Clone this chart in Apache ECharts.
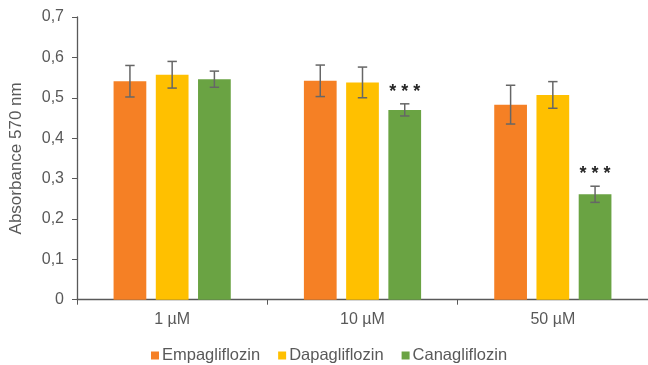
<!DOCTYPE html>
<html>
<head>
<meta charset="utf-8">
<script src="https://cdn.jsdelivr.net/npm/echarts@6/dist/echarts.min.js"></script>
<style>
  html, body { margin: 0; padding: 0; background: #fff; }
  #chart { width: 648px; height: 365px; }
</style>
</head>
<body>
<div id="chart"></div>
<script>
// Concentrations on the x axis
const categories = ['1 µM', '10 µM', '50 µM'];
const yTicks = ['0', '0,1', '0,2', '0,3', '0,4', '0,5', '0,6', '0,7'];

// Mean absorbance per drug and concentration
const empagliflozin = [0.541, 0.542, 0.483];
const dapagliflozin = [0.557, 0.538, 0.507];
const canagliflozin = [0.546, 0.470, 0.261];

// Error bar half-widths (±)
const empaErr = [0.039, 0.039, 0.048];
const dapaErr = [0.033, 0.038, 0.033];
const canaErr = [0.020, 0.015, 0.020];

// Significance markers above bars
const empaSig = ['', '', ''];
const dapaSig = ['', '', ''];
const canaSig = ['', '***', '***'];

const names = ['Empagliflozin', 'Dapagliflozin', 'Canagliflozin'];
const colors = ['#F58025', '#FFC000', '#6AA343'];
const means = [empagliflozin, dapagliflozin, canagliflozin];
const errs = [empaErr, dapaErr, canaErr];
const sigs = [empaSig, dapaSig, canaSig];

const BAR_RATIO = 0.172;   // bar width as share of category band
const GAP_RATIO = 0.29;    // gap between bars as share of bar width
const FONT = '"Liberation Sans", Arial, sans-serif';
const TEXT = '#595959';

const barSeries = means.map((vals, i) => ({
  name: names[i],
  type: 'bar',
  data: vals,
  barWidth: (BAR_RATIO * 100) + '%',
  barGap: (GAP_RATIO * 100) + '%',
  itemStyle: { color: colors[i] },
  z: 2
}));

const errorSeries = means.map((vals, i) => ({
  type: 'custom',
  name: names[i] + ' error',
  data: vals.map((v, k) => [k, v, errs[i][k]]),
  z: 5,
  silent: true,
  renderItem: function (params, api) {
    const k = api.value(0);
    const m = api.value(1);
    const e = api.value(2);
    const sig = sigs[i][k];
    const band = api.size([1, 0])[0];
    const bw = band * BAR_RATIO;
    const dx = (i - 1) * bw * (1 + GAP_RATIO);
    const top = api.coord([k, m + e]);
    const bot = api.coord([k, m - e]);
    const x = top[0] + dx;
    const cap = 4.7;
    const st = { stroke: '#666666', lineWidth: 1.5 };
    const children = [
      { type: 'line', shape: { x1: x, y1: top[1], x2: x, y2: bot[1] }, style: st },
      { type: 'line', shape: { x1: x - cap, y1: top[1], x2: x + cap, y2: top[1] }, style: st },
      { type: 'line', shape: { x1: x - cap, y1: bot[1], x2: x + cap, y2: bot[1] }, style: st }
    ];
    if (sig) {
      children.push({
        type: 'text',
        style: {
          text: sig.split('').join(' '), x: x, y: top[1] - 12,
          align: 'center', verticalAlign: 'middle',
          fill: '#262626', font: 'bold 18px ' + FONT
        }
      });
    }
    return { type: 'group', children: children };
  }
}));

const chart = echarts.init(document.getElementById('chart'), null, { renderer: 'canvas' });
chart.setOption({
  animation: false,
  backgroundColor: '#ffffff',
  grid: { left: 73.7, right: 0, top: 17, bottom: 65.3, containLabel: false },
  legend: {
    data: names,
    left: 146,
    top: 342,
    icon: 'rect',
    itemWidth: 8,
    itemHeight: 8,
    itemGap: 18,
    textStyle: { color: TEXT, fontSize: 16.5, fontFamily: FONT, padding: [0, 0, 0, -2] }
  },
  xAxis: {
    type: 'category',
    data: categories,
    axisLine: { lineStyle: { color: '#595959', width: 1.3 } },
    axisTick: { show: true, length: 5, lineStyle: { color: '#595959' } },
    axisLabel: { color: TEXT, fontSize: 16, fontFamily: FONT, margin: 12 }
  },
  yAxis: {
    type: 'value',
    min: 0,
    max: 0.7,
    interval: 0.1,
    name: 'Absorbance 570 nm',
    nameLocation: 'middle',
    nameGap: 52,
    nameTextStyle: { color: TEXT, fontSize: 17, fontFamily: FONT },
    splitLine: { show: false },
    axisLine: { show: true, lineStyle: { color: '#595959', width: 1.3 } },
    axisTick: { show: true, length: 5, lineStyle: { color: '#595959' } },
    axisLabel: {
      color: TEXT, fontSize: 16, fontFamily: FONT, margin: 13,
      formatter: function (v) { return yTicks[Math.round(v * 10)]; }
    }
  },
  series: barSeries.concat(errorSeries)
});
</script>
</body>
</html>
